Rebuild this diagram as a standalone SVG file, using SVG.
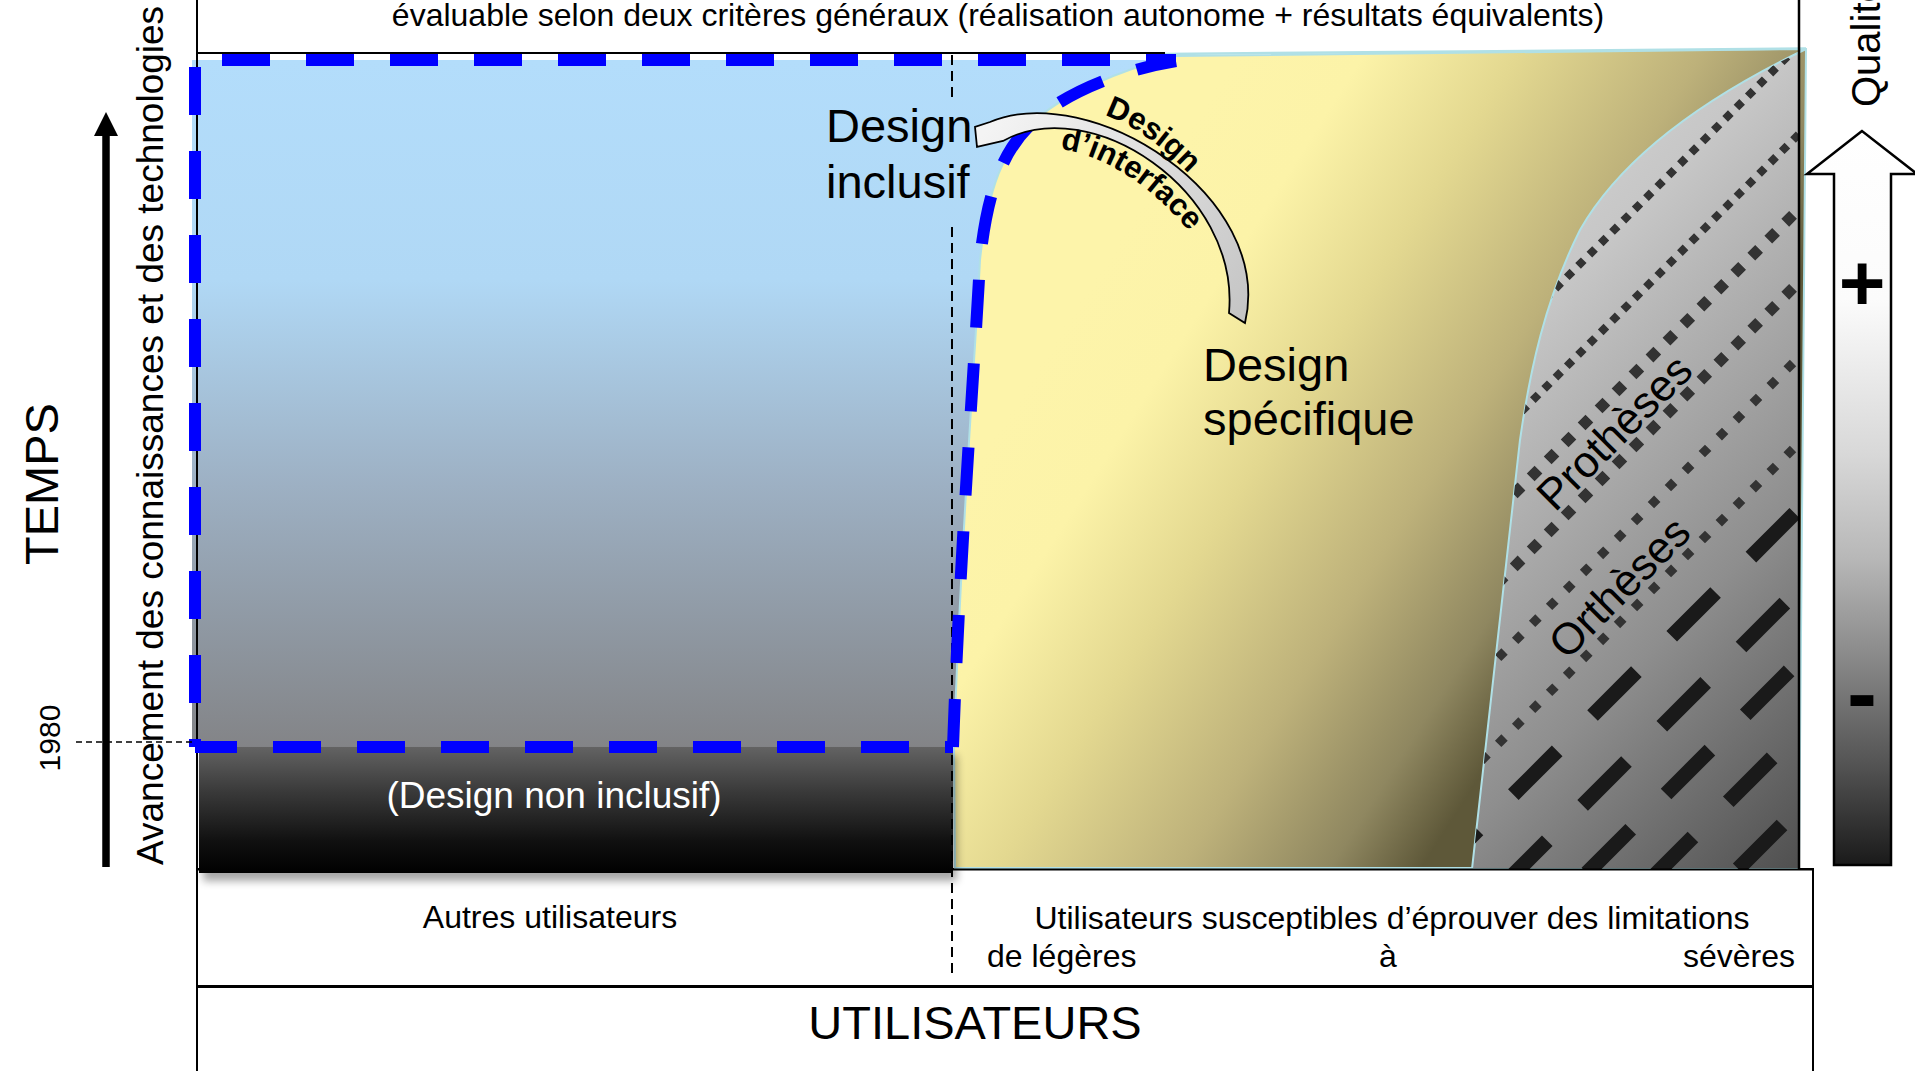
<svg xmlns="http://www.w3.org/2000/svg" width="1915" height="1071" viewBox="0 0 1915 1071">
<defs>
<style>
text{font-family:"Liberation Sans",Arial,Helvetica,sans-serif;fill:#000}
.lbl{font-size:32px}
.big{font-size:47px}
.blue{fill:none;stroke:#0000ff;stroke-width:12;stroke-dasharray:48 36}
.vdash{stroke:#000;stroke-width:2;stroke-dasharray:10 6;fill:none}
.dot1{stroke:#333;stroke-width:8;stroke-dasharray:8 8}
.dot2{stroke:#333;stroke-width:11;stroke-dasharray:11 13}
.dot3{stroke:#333;stroke-width:9;stroke-dasharray:9 15}
.dash{stroke:#1a1a1a;stroke-width:15;stroke-dasharray:62 50}
.edge{stroke:#000;stroke-width:2;fill:none}
</style>
<linearGradient id="gBlue" gradientUnits="userSpaceOnUse" x1="0" y1="60" x2="0" y2="747">
<stop offset="0" stop-color="#b3ddfb"/>
<stop offset="0.32" stop-color="#b0d8f5"/>
<stop offset="0.62" stop-color="#9db0c3"/>
<stop offset="1" stop-color="#838487"/>
</linearGradient>
<linearGradient id="gYellow" gradientUnits="userSpaceOnUse" x1="1080" y1="300" x2="1580" y2="620">
<stop offset="0" stop-color="#fdf4aa"/>
<stop offset="0.18" stop-color="#fcf3a8"/>
<stop offset="0.4" stop-color="#e3d890"/>
<stop offset="0.66" stop-color="#bdb17a"/>
<stop offset="0.87" stop-color="#8f8760"/>
<stop offset="1" stop-color="#5e5839"/>
</linearGradient>
<linearGradient id="gGray" gradientUnits="userSpaceOnUse" x1="1450" y1="250" x2="1950" y2="750">
<stop offset="0" stop-color="#d0d0d0"/>
<stop offset="0.15" stop-color="#c6c6c6"/>
<stop offset="0.6" stop-color="#8e8e8e"/>
<stop offset="1" stop-color="#4a4a4a"/>
</linearGradient>
<linearGradient id="gDark" gradientUnits="userSpaceOnUse" x1="0" y1="747" x2="0" y2="873">
<stop offset="0" stop-color="#636363"/>
<stop offset="0.35" stop-color="#3a3a3a"/>
<stop offset="0.75" stop-color="#101010"/>
<stop offset="1" stop-color="#000"/>
</linearGradient>
<linearGradient id="gQual" gradientUnits="userSpaceOnUse" x1="0" y1="131" x2="0" y2="865">
<stop offset="0" stop-color="#fff"/>
<stop offset="0.23" stop-color="#fbfbfb"/>
<stop offset="0.44" stop-color="#d8d8d8"/>
<stop offset="0.58" stop-color="#b8b8b8"/>
<stop offset="0.72" stop-color="#888"/>
<stop offset="0.86" stop-color="#555"/>
<stop offset="1" stop-color="#1a1a1a"/>
</linearGradient>
<linearGradient id="gArrow" gradientUnits="userSpaceOnUse" x1="990" y1="125" x2="1245" y2="320">
<stop offset="0" stop-color="#f4f4f4"/>
<stop offset="1" stop-color="#c4c4c4"/>
</linearGradient>
<filter id="blur" x="-5%" y="-20%" width="110%" height="140%"><feGaussianBlur stdDeviation="4"/></filter>
<clipPath id="grayClip"><path d="M1806,49 C1700,100 1620,160 1580,230 C1545,300 1530,370 1520,440 L1472,869 L1799,869 L1799,49 Z"/></clipPath>
<path id="arcDesign" d="M1093,112 C1130,120 1172,150 1218,207"/>
<path id="arcInterface" d="M1053,148 C1100,153 1152,182 1200,245"/>
</defs>

<rect x="0" y="0" width="1915" height="1071" fill="#fff"/>

<g id="box-users-top">
<rect x="197" y="869" width="1616" height="117" fill="#fff" stroke="#000" stroke-width="2"/>
</g>
<g id="box-users-bottom">
<rect x="197" y="986" width="1616" height="100" fill="#fff" stroke="#000" stroke-width="2"/>
<line x1="197" y1="986.5" x2="1813" y2="986.5" stroke="#000" stroke-width="3"/>
</g>

<g id="region-inclusif">
<rect x="192" y="60" width="988" height="687" fill="url(#gBlue)"/>
</g>

<g id="region-specifique">
<path d="M1176,56 L1806,49 L1799,868 L955,868 L954,747 C960,550 975,360 980,260 C988,185 1005,150 1030,125 C1060,95 1120,70 1176,56 Z" fill="url(#gYellow)" stroke="#b0e0e6" stroke-width="2"/>
</g>

<g id="region-aides">
<path d="M1806,49 C1700,100 1620,160 1580,230 C1545,300 1530,370 1520,440 L1472,869 L1799,869 L1799,49 Z" fill="url(#gGray)" stroke="#b0e0e6" stroke-width="2"/>
<g clip-path="url(#grayClip)">
<line class="dot1" x1="1810" y1="34" x2="1400" y2="444"/>
<line class="dot1" x1="1810" y1="123" x2="1400" y2="533"/>
<line class="dot2" x1="1810" y1="198" x2="1400" y2="608"/>
<line class="dot2" x1="1810" y1="271" x2="1400" y2="681"/>
<line class="dot3" x1="1810" y1="346" x2="1400" y2="756"/>
<line class="dot3" x1="1810" y1="432" x2="1400" y2="842"/>
<line class="dash" x1="1799" y1="509" x2="1400" y2="908" stroke-dashoffset="-6"/>
<line class="dash" x1="1799" y1="589" x2="1400" y2="988" stroke-dashoffset="-20"/>
<line class="dash" x1="1799" y1="661" x2="1400" y2="1060" stroke-dashoffset="-14"/>
<line class="dash" x1="1799" y1="731" x2="1500" y2="1030" stroke-dashoffset="-38"/>
<line class="dash" x1="1799" y1="808" x2="1600" y2="1007" stroke-dashoffset="-24"/>
</g>
<text transform="translate(1625,443) rotate(-45)" text-anchor="middle" font-size="44">Prothèses</text>
<text transform="translate(1630,598) rotate(-45)" text-anchor="middle" font-size="44">Orthèses</text>
</g>

<line x1="197" y1="869.5" x2="1813" y2="869.5" stroke="#000" stroke-width="2"/>

<g id="region-non-inclusif">
<rect x="203" y="755" width="754" height="126" fill="#000" opacity="0.35" filter="url(#blur)"/>
<rect x="199" y="747" width="754" height="126" fill="url(#gDark)"/>
<text x="554" y="808" text-anchor="middle" font-size="37" style="fill:#fff">(Design non inclusif)</text>
</g>

<g id="frame">
<path class="edge" d="M197,0 V53 H1165"/>
<line x1="1165" y1="54" x2="1806" y2="48.5" stroke="#b0e0e6" stroke-width="2.5"/>
<line x1="197" y1="53" x2="197" y2="1071" stroke="#000" stroke-width="2"/>
<line x1="1799" y1="0" x2="1799" y2="870" stroke="#000" stroke-width="2.5"/>
<text x="998" y="26" text-anchor="middle" class="lbl">évaluable selon deux critères généraux (réalisation autonome + résultats équivalents)</text>
</g>

<g id="divider">
<line class="vdash" x1="952" y1="55" x2="952" y2="100"/>
<line class="vdash" x1="952" y1="227" x2="952" y2="977"/>
</g>

<g id="outline-inclusif">
<path class="blue" d="M195,60 H1176" stroke-dashoffset="-27"/>
<path class="blue" d="M195,60 V747" stroke-dashoffset="-7"/>
<path class="blue" d="M195,747 H953" stroke-dashoffset="6"/>
<path class="blue" d="M953,747 C960,550 975,360 980,260 C988,185 1005,150 1030,125 C1060,95 1120,70 1176,61"/>
</g>

<g id="label-inclusif">
<text x="826" y="142" class="big">Design</text>
<text x="826" y="198" class="big">inclusif</text>
</g>
<g id="label-specifique">
<text x="1203" y="381" class="big">Design</text>
<text x="1203" y="435" class="big">spécifique</text>
</g>

<g id="connectors">
<path d="M1245,323 C1275,195 1090,80 990,122 L975,127 L977,147 L1003,141 C1090,92 1240,190 1229,313 Z" fill="url(#gArrow)" stroke="#000" stroke-width="1.8" stroke-linejoin="miter"/>
<text font-size="31" font-weight="bold"><textPath href="#arcDesign" startOffset="12">Design</textPath></text>
<text font-size="31" font-weight="bold"><textPath href="#arcInterface" startOffset="7">d’interface</textPath></text>
</g>

<g id="axis-temps">
<line x1="106" y1="867" x2="106" y2="132" stroke="#000" stroke-width="7.5"/>
<polygon points="94,136 118,136 106,112" fill="#000"/>
<text transform="translate(58,484) rotate(-90)" text-anchor="middle" font-size="47">TEMPS</text>
<text transform="translate(163,865) rotate(-90)" font-size="37">Avancement des connaissances et des technologies</text>
<text transform="translate(60,738) rotate(-90)" text-anchor="middle" font-size="30">1980</text>
<line x1="76" y1="742" x2="195" y2="742" stroke="#000" stroke-width="1.5" stroke-dasharray="6 4"/>
</g>

<g id="axis-qualite">
<path d="M1862,131 L1807,174 L1834,174 L1834,865 L1891,865 L1891,174 L1917,174 Z" fill="url(#gQual)" stroke="#000" stroke-width="2.5" stroke-linejoin="miter"/>
<text x="1862" y="310" text-anchor="middle" font-size="80" font-weight="bold">+</text>
<text x="1862" y="724" text-anchor="middle" font-size="90" font-weight="bold">-</text>
<text transform="translate(1880,107) rotate(-90)" font-size="40">Qualité</text>
</g>

<g id="label-users">
<text x="550" y="928" text-anchor="middle" class="lbl">Autres utilisateurs</text>
<text x="1392" y="929" text-anchor="middle" class="lbl">Utilisateurs susceptibles d’éprouver des limitations</text>
<text x="987" y="967" class="lbl">de légères</text>
<text x="1388" y="967" text-anchor="middle" class="lbl">à</text>
<text x="1795" y="967" text-anchor="end" class="lbl">sévères</text>
<text x="975" y="1039" text-anchor="middle" font-size="47">UTILISATEURS</text>
</g>
</svg>
